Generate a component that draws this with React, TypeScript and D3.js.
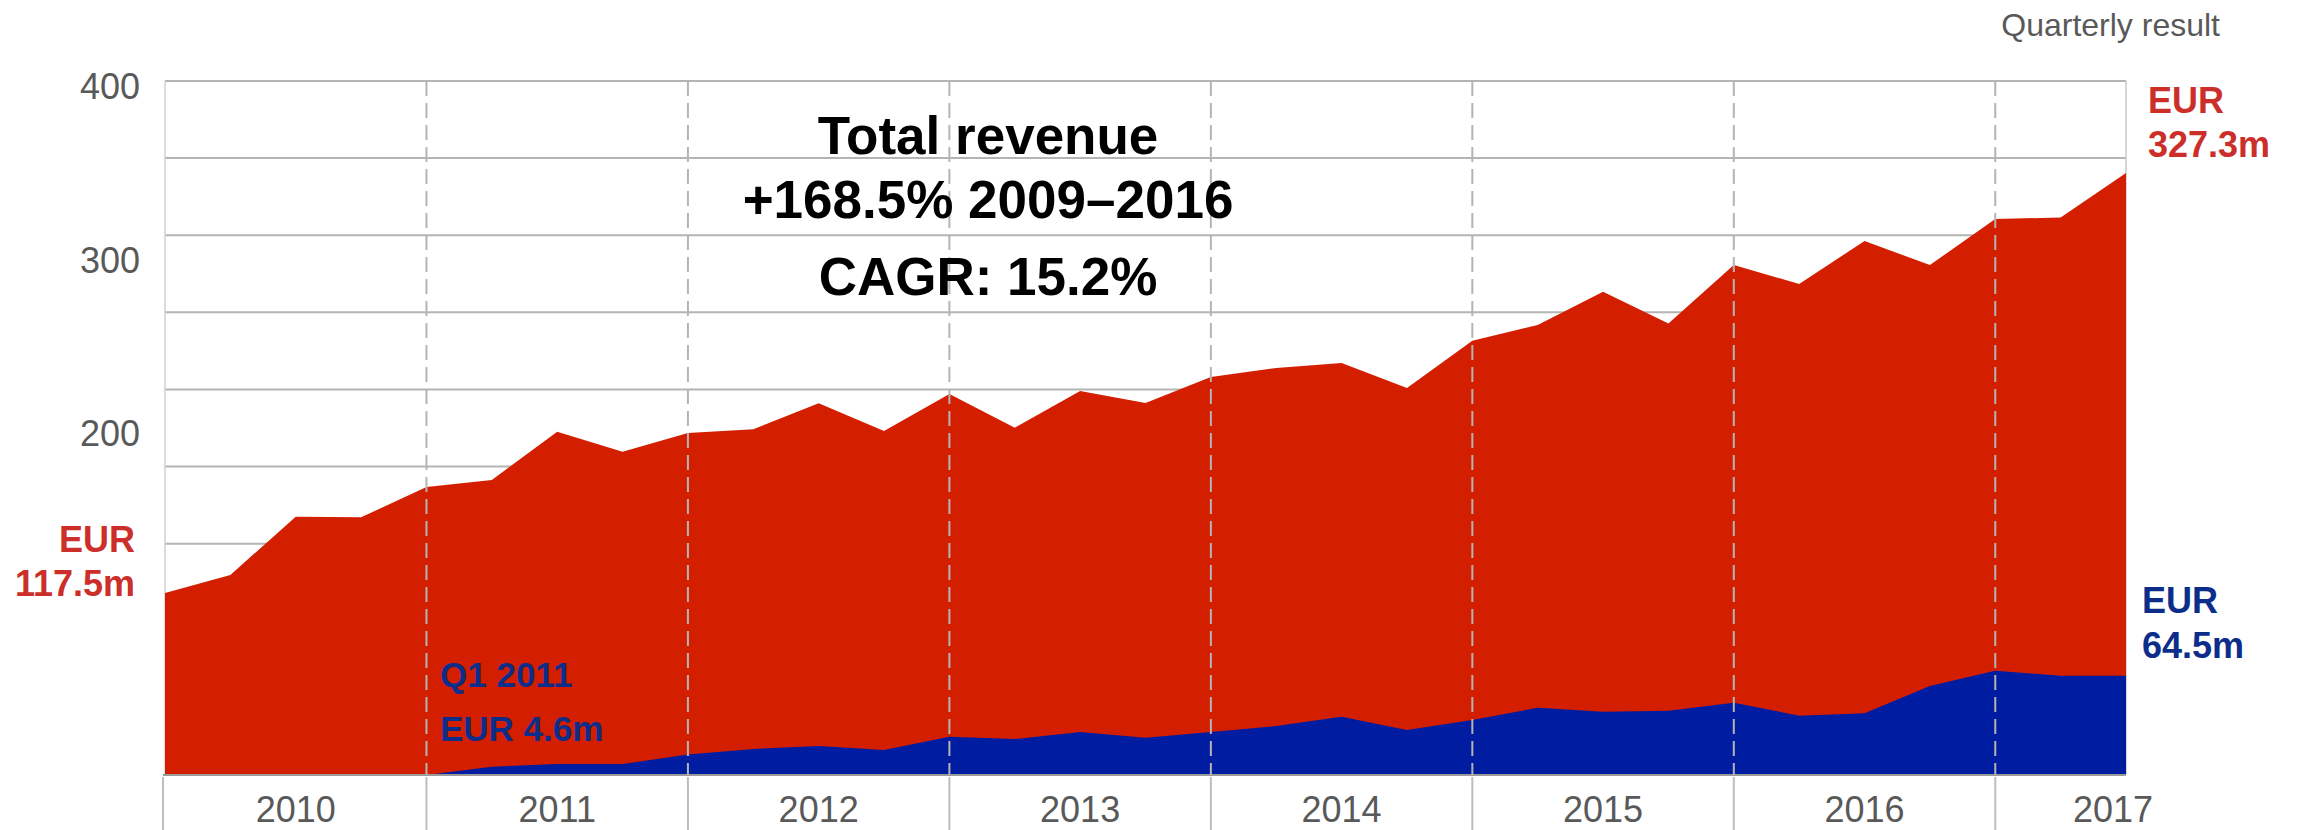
import React from "react";
import * as d3 from "d3";

// quarter ends, Q4 2009 .. Q2 2017
const quarters = [
  "Q4 2009",
  "Q1 2010", "Q2 2010", "Q3 2010", "Q4 2010",
  "Q1 2011", "Q2 2011", "Q3 2011", "Q4 2011",
  "Q1 2012", "Q2 2012", "Q3 2012", "Q4 2012",
  "Q1 2013", "Q2 2013", "Q3 2013", "Q4 2013",
  "Q1 2014", "Q2 2014", "Q3 2014", "Q4 2014",
  "Q1 2015", "Q2 2015", "Q3 2015", "Q4 2015",
  "Q1 2016", "Q2 2016", "Q3 2016", "Q4 2016",
  "Q1 2017", "Q2 2017",
];

// total revenue (red)
const totalRevenue = [
  104.9,
  115.3, 148.9, 148.5, 166.0,
  170.0, 197.9, 186.3, 197.1,
  199.3, 214.2, 198.3, 219.6,
  200.2, 221.3, 214.4, 229.4,
  234.6, 237.5, 223.1, 250.3,
  259.4, 278.6, 260.3, 293.9,
  283.0, 307.8, 293.9, 320.5,
  321.3, 347.0,
];

// segment revenue (blue), starts Q1 2011
const segmentRevenue = [
  0,
  0, 0, 0, 0,
  4.8, 6.3, 6.3, 11.8,
  15.0, 16.7, 14.4, 22.1,
  20.7, 24.8, 21.5, 24.8,
  28.2, 33.6, 25.9, 31.7,
  38.8, 36.5, 37.1, 41.7,
  34.2, 35.6, 51.3, 60.1,
  57.2, 57.2,
];

const years = ["2010", "2011", "2012", "2013", "2014", "2015", "2016", "2017"];
const yearStarts = ["Q4 2009", "Q4 2010", "Q4 2011", "Q4 2012", "Q4 2013", "Q4 2014", "Q4 2015", "Q4 2016"];
const yTickLabels = [400, 300, 200];
const yMax = 400;
const gridSteps = 9;

const W = 2305;
const H = 830;
const left = 165;
const right = 2126;
const top = 81;
const bottom = 775;

const RED = "#d41e00";
const BLUE = "#001ca0";
const RED_TEXT = "#cc2f2a";
const BLUE_TEXT = "#0c2d8a";
const GREY_TEXT = "#595959";
const GRID = "#b4b4b4";
const FONT = "'Liberation Sans', Arial, sans-serif";

const App = () => {
  const x = d3.scalePoint<string>().domain(quarters).range([left, right]);
  const y = d3.scaleLinear().domain([0, yMax]).range([bottom, top]);
  const step = x.step();

  const area = d3
    .area<number>()
    .x((_, i) => x(quarters[i]) as number)
    .y0(y(0))
    .y1((d) => y(d));

  const gridValues = d3.range(0, gridSteps + 1).map((i) => (i * yMax) / gridSteps);
  const dividers = yearStarts.slice(1).map((q) => x(q) as number);

  return (
    <svg
      width={W}
      height={H}
      style={{ position: "absolute", left: 0, top: 0, display: "block", fontFamily: FONT }}
    >
      <rect width={W} height={H} fill="#fff" />

      {/* horizontal grid */}
      {gridValues.map((v) => (
        <line key={v} x1={left} x2={right} y1={y(v)} y2={y(v)} stroke={GRID} strokeWidth={2} />
      ))}
      <line x1={left} x2={left} y1={top} y2={bottom} stroke="#d0d0d0" strokeWidth={1.5} />
      <line x1={right} x2={right} y1={top} y2={bottom} stroke="#c8c8c8" strokeWidth={1.5} />

      {/* areas */}
      <path d={area(totalRevenue) || ""} fill={RED} />
      <path d={area(segmentRevenue) || ""} fill={BLUE} />

      {/* baseline */}
      <line x1={left - 2} x2={right} y1={bottom} y2={bottom} stroke="#9a9a9a" strokeWidth={2} />

      {/* year dividers */}
      {dividers.map((dx, i) => (
        <line
          key={"d" + i}
          x1={dx}
          x2={dx}
          y1={top}
          y2={bottom}
          stroke={GRID}
          strokeWidth={2}
          strokeDasharray="15 7"
        />
      ))}
      {[left - 2, ...dividers].map((dx, i) => (
        <line key={"t" + i} x1={dx} x2={dx} y1={bottom + 2} y2={H} stroke="#bdbdbd" strokeWidth={2} />
      ))}

      {/* year labels */}
      {years.map((yr, i) => {
        const start = x(yearStarts[i]) as number;
        const cx = Math.min(start + 2 * step, right - 0.2 * step);
        return (
          <text key={yr} x={cx} y={822} textAnchor="middle" fontSize={36} fill={GREY_TEXT}>
            {yr}
          </text>
        );
      })}

      {/* y labels */}
      {yTickLabels.map((v) => (
        <text key={v} x={140} y={y(v) + 18} textAnchor="end" fontSize={36} fill={GREY_TEXT}>
          {v}
        </text>
      ))}

      <text x={2220} y={36} textAnchor="end" fontSize={32} fill={GREY_TEXT}>
        Quarterly result
      </text>

      {/* title */}
      <g fontWeight="bold" fontSize={53} fill="#000" textAnchor="middle">
        <text x={988} y={154}>Total revenue</text>
        <text x={988} y={218}>+168.5% 2009–2016</text>
        <text x={988} y={295}>CAGR: 15.2%</text>
      </g>

      {/* annotations */}
      <g fontWeight="bold" fontSize={36} fill={RED_TEXT}>
        <text x={135} y={552} textAnchor="end">EUR</text>
        <text x={135} y={596} textAnchor="end">117.5m</text>
        <text x={2148} y={113}>EUR</text>
        <text x={2148} y={157}>327.3m</text>
      </g>
      <g fontWeight="bold" fontSize={36} fill={BLUE_TEXT}>
        <text x={2142} y={613}>EUR</text>
        <text x={2142} y={658}>64.5m</text>
        <text x={440} y={687} fontSize={35}>Q1 2011</text>
        <text x={440} y={741} fontSize={35}>EUR 4.6m</text>
      </g>
    </svg>
  );
};

export default App;
